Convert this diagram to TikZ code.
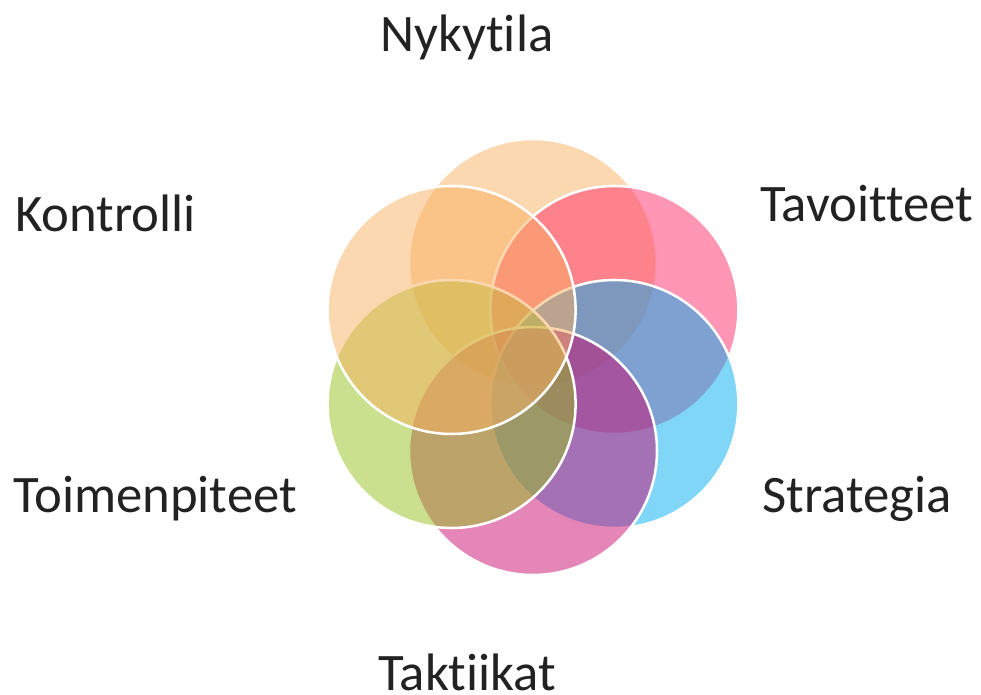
\documentclass[tikz,border=0pt]{standalone}
\usepackage{fontspec}
\setmainfont{Carlito}[Ligatures=NoCommon]
\usepackage{tikz}

\definecolor{ringpeach}{HTML}{F9B162}
\definecolor{ringrose}{HTML}{FF2D69}
\definecolor{ringsky}{HTML}{00ADEF}
\definecolor{ringplum}{HTML}{C90D71}
\definecolor{ringgreen}{HTML}{95C11D}
\definecolor{inkgray}{HTML}{222222}

\tikzset{
  ring/.style={circle, draw=white, line width=1.8pt, fill opacity=0.5,
    minimum size=6.2cm, inner sep=0pt},
  word/.style={anchor=base west, inner sep=0pt, text=inkgray,
    font=\fontsize{37.5}{45}\selectfont}
}

\begin{document}
\begin{tikzpicture}
        \useasboundingbox (-13.325,-8.45) rectangle (11.2,8.925);

        % six circles, clockwise from the top
        \node[ring, fill=ringpeach] (nykytila) at (90:2.35) {};
        \node[ring, fill=ringrose] (tavoitteet) at (30:2.35) {};
        \node[ring, fill=ringsky] (strategia) at (-30:2.35) {};
        \node[ring, fill=ringplum] (taktiikat) at (-90:2.35) {};
        \node[ring, fill=ringgreen] (toimenpiteet) at (-150:2.35) {};
        \node[ring, fill=ringpeach] (kontrolli) at (150:2.35) {};

        % labels
        \node[word] (t-nykytila) at (-3.825,7.625) {Nykytila};
        \node[word] (t-tavoitteet) at (5.675,3.375) {Tavoitteet};
        \node[word] (t-strategia) at (5.725,-3.875) {Strategia};
        \node[word] (t-taktiikat) at (-3.875,-8.33) {Taktiikat};
        \node[word] (t-toimenpiteet) at (-13.0,-3.875) {Toimenpiteet};
        \node[word] (t-kontrolli) at (-12.95,3.125) {Kontrolli};
\end{tikzpicture}
\end{document}
